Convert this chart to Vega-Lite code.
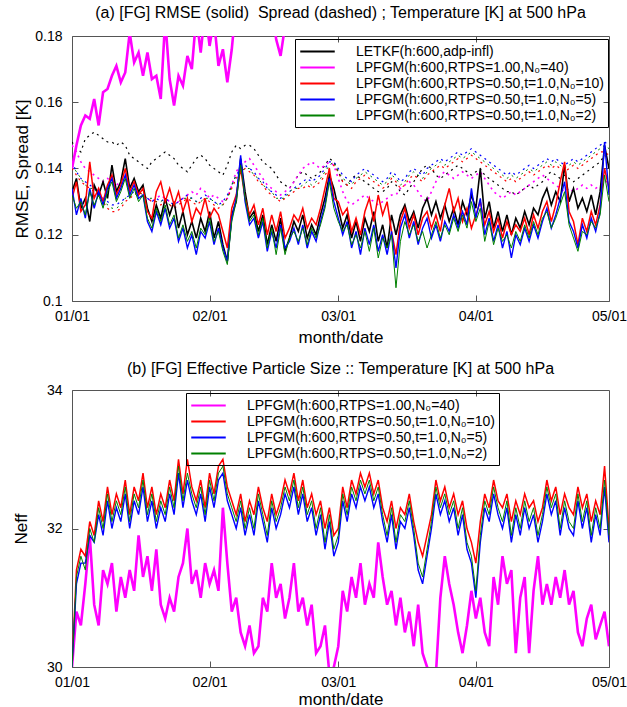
{
"$schema":"https://vega.github.io/schema/vega-lite/v6.json",
"padding":{"left":11,"top":4,"right":0,"bottom":0},
"spacing":14,
"resolve":{"scale":{"color":"independent"},"legend":{"color":"independent"}},
"config":{"font":"Liberation Sans","view":{"stroke":"#555","strokeWidth":1},
"axis":{"grid":false,"domain":false,"tickColor":"#555","tickSize":-6,"labelFontSize":14,"labelColor":"#000","titleFontSize":17,"titleFontWeight":"normal","titleColor":"#000","labelOverlap":false,"labelFlush":false},
"axisY":{"labelPadding":16},"axisX":{"labelPadding":14},
"title":{"fontSize":16,"fontWeight":"normal","color":"#000","anchor":"middle","offset":8},
"legend":{"title":null,"strokeColor":"#000","padding":4,"labelFontSize":14,"labelColor":"#000","symbolType":"M-2.3,0H2.3","symbolSize":225,"symbolStrokeWidth":2,"rowPadding":0,"labelLimit":400,"symbolOffset":10,"labelOffset":30}},
"datasets":{"v":[
{"d":0,"k":0.133,"r":0.131,"b":0.134,"g":0.132,"m":0.140,"ks":0.148,"ms":0.147,"rs":0.140,"bs":0.142,"gs":0.141,"nm":30.0,"nr":30.0,"nb":30.0,"ng":30.0},
{"d":1,"k":0.137,"r":0.136,"b":0.126,"g":0.128,"m":0.147,"ks":0.146,"ms":0.145,"rs":0.138,"bs":0.139,"gs":0.139,"nm":30.8,"nr":31.4,"nb":31.2,"ng":31.3},
{"d":2,"k":0.128,"r":0.127,"b":0.131,"g":0.130,"m":0.153,"ks":0.145,"ms":0.142,"rs":0.136,"bs":0.137,"gs":0.137,"nm":30.6,"nr":31.7,"nb":31.5,"ng":31.6},
{"d":3,"k":0.131,"r":0.129,"b":0.125,"g":0.126,"m":0.156,"ks":0.149,"ms":0.140,"rs":0.135,"bs":0.136,"gs":0.135,"nm":31.2,"nr":31.6,"nb":31.5,"ng":31.4},
{"d":4,"k":0.124,"r":0.142,"b":0.134,"g":0.133,"m":0.155,"ks":0.150,"ms":0.139,"rs":0.134,"bs":0.135,"gs":0.134,"nm":31.9,"nr":32.1,"nb":31.9,"ng":32.0},
{"d":5,"k":0.135,"r":0.131,"b":0.128,"g":0.129,"m":0.161,"ks":0.151,"ms":0.138,"rs":0.133,"bs":0.134,"gs":0.134,"nm":30.9,"nr":31.9,"nb":31.8,"ng":31.8},
{"d":6,"k":0.132,"r":0.134,"b":0.133,"g":0.132,"m":0.153,"ks":0.150,"ms":0.137,"rs":0.132,"bs":0.133,"gs":0.132,"nm":30.6,"nr":32.4,"nb":32.2,"ng":32.3},
{"d":7,"k":0.136,"r":0.130,"b":0.129,"g":0.128,"m":0.163,"ks":0.149,"ms":0.136,"rs":0.130,"bs":0.131,"gs":0.131,"nm":31.4,"nr":32.1,"nb":31.9,"ng":32.0},
{"d":8,"k":0.131,"r":0.135,"b":0.134,"g":0.133,"m":0.164,"ks":0.148,"ms":0.137,"rs":0.128,"bs":0.130,"gs":0.129,"nm":31.2,"nr":32.6,"nb":32.4,"ng":32.5},
{"d":9,"k":0.141,"r":0.138,"b":0.137,"g":0.136,"m":0.168,"ks":0.148,"ms":0.136,"rs":0.127,"bs":0.129,"gs":0.128,"nm":31.5,"nr":32.2,"nb":32.0,"ng":32.1},
{"d":10,"k":0.133,"r":0.132,"b":0.131,"g":0.130,"m":0.171,"ks":0.147,"ms":0.135,"rs":0.127,"bs":0.129,"gs":0.128,"nm":30.8,"nr":32.5,"nb":32.3,"ng":32.4},
{"d":11,"k":0.136,"r":0.135,"b":0.134,"g":0.133,"m":0.166,"ks":0.148,"ms":0.136,"rs":0.128,"bs":0.130,"gs":0.129,"nm":31.3,"nr":32.3,"nb":32.1,"ng":32.2},
{"d":12,"k":0.143,"r":0.140,"b":0.138,"g":0.137,"m":0.169,"ks":0.147,"ms":0.135,"rs":0.130,"bs":0.131,"gs":0.131,"nm":31.0,"nr":32.7,"nb":32.5,"ng":32.6},
{"d":13,"k":0.134,"r":0.133,"b":0.132,"g":0.131,"m":0.181,"ks":0.144,"ms":0.136,"rs":0.131,"bs":0.132,"gs":0.132,"nm":31.4,"nr":32.2,"nb":32.0,"ng":32.1},
{"d":14,"k":0.137,"r":0.136,"b":0.135,"g":0.134,"m":0.172,"ks":0.143,"ms":0.135,"rs":0.132,"bs":0.133,"gs":0.132,"nm":31.1,"nr":32.6,"nb":32.4,"ng":32.5},
{"d":15,"k":0.133,"r":0.132,"b":0.131,"g":0.130,"m":0.175,"ks":0.142,"ms":0.133,"rs":0.133,"bs":0.133,"gs":0.133,"nm":31.9,"nr":32.4,"nb":32.2,"ng":32.3},
{"d":16,"k":0.135,"r":0.134,"b":0.132,"g":0.132,"m":0.168,"ks":0.141,"ms":0.132,"rs":0.132,"bs":0.132,"gs":0.132,"nm":31.3,"nr":32.8,"nb":32.6,"ng":32.7},
{"d":17,"k":0.128,"r":0.127,"b":0.124,"g":0.125,"m":0.175,"ks":0.140,"ms":0.131,"rs":0.131,"bs":0.131,"gs":0.131,"nm":31.6,"nr":32.3,"nb":32.1,"ng":32.2},
{"d":18,"k":0.124,"r":0.125,"b":0.121,"g":0.122,"m":0.167,"ks":0.142,"ms":0.130,"rs":0.130,"bs":0.130,"gs":0.131,"nm":31.1,"nr":32.6,"nb":32.4,"ng":32.5},
{"d":19,"k":0.129,"r":0.133,"b":0.127,"g":0.128,"m":0.168,"ks":0.143,"ms":0.131,"rs":0.130,"bs":0.131,"gs":0.130,"nm":31.7,"nr":32.2,"nb":32.0,"ng":32.1},
{"d":20,"k":0.125,"r":0.136,"b":0.123,"g":0.124,"m":0.161,"ks":0.144,"ms":0.132,"rs":0.129,"bs":0.130,"gs":0.130,"nm":30.9,"nr":32.5,"nb":32.3,"ng":32.4},
{"d":21,"k":0.131,"r":0.130,"b":0.128,"g":0.129,"m":0.185,"ks":0.145,"ms":0.131,"rs":0.130,"bs":0.131,"gs":0.131,"nm":30.7,"nr":32.3,"nb":32.1,"ng":32.2},
{"d":22,"k":0.126,"r":0.134,"b":0.122,"g":0.123,"m":0.167,"ks":0.144,"ms":0.130,"rs":0.129,"bs":0.130,"gs":0.129,"nm":31.0,"nr":32.7,"nb":32.5,"ng":32.6},
{"d":23,"k":0.130,"r":0.129,"b":0.125,"g":0.126,"m":0.159,"ks":0.143,"ms":0.129,"rs":0.128,"bs":0.129,"gs":0.129,"nm":30.8,"nr":32.4,"nb":32.2,"ng":32.3},
{"d":24,"k":0.122,"r":0.133,"b":0.118,"g":0.119,"m":0.168,"ks":0.141,"ms":0.130,"rs":0.129,"bs":0.130,"gs":0.130,"nm":31.3,"nr":33.0,"nb":32.8,"ng":32.9},
{"d":25,"k":0.127,"r":0.127,"b":0.122,"g":0.123,"m":0.165,"ks":0.140,"ms":0.131,"rs":0.130,"bs":0.131,"gs":0.131,"nm":31.5,"nr":32.5,"nb":32.3,"ng":32.4},
{"d":26,"k":0.120,"r":0.131,"b":0.116,"g":0.118,"m":0.174,"ks":0.139,"ms":0.132,"rs":0.131,"bs":0.132,"gs":0.131,"nm":32.0,"nr":33.0,"nb":32.7,"ng":32.8},
{"d":27,"k":0.124,"r":0.124,"b":0.120,"g":0.121,"m":0.170,"ks":0.141,"ms":0.133,"rs":0.130,"bs":0.131,"gs":0.131,"nm":31.2,"nr":32.6,"nb":32.4,"ng":32.5},
{"d":28,"k":0.119,"r":0.128,"b":0.114,"g":0.116,"m":0.186,"ks":0.143,"ms":0.132,"rs":0.129,"bs":0.130,"gs":0.130,"nm":31.4,"nr":32.4,"nb":32.2,"ng":32.3},
{"d":29,"k":0.125,"r":0.126,"b":0.121,"g":0.122,"m":0.175,"ks":0.144,"ms":0.134,"rs":0.130,"bs":0.131,"gs":0.130,"nm":31.0,"nr":32.7,"nb":32.5,"ng":32.6},
{"d":30,"k":0.121,"r":0.131,"b":0.119,"g":0.120,"m":0.188,"ks":0.143,"ms":0.133,"rs":0.131,"bs":0.132,"gs":0.131,"nm":31.5,"nr":32.3,"nb":32.1,"ng":32.2},
{"d":31,"k":0.127,"r":0.125,"b":0.124,"g":0.125,"m":0.177,"ks":0.141,"ms":0.131,"rs":0.130,"bs":0.131,"gs":0.131,"nm":31.2,"nr":32.8,"nb":32.6,"ng":32.7},
{"d":32,"k":0.119,"r":0.128,"b":0.117,"g":0.118,"m":0.185,"ks":0.140,"ms":0.132,"rs":0.129,"bs":0.130,"gs":0.130,"nm":31.4,"nr":32.5,"nb":32.3,"ng":32.4},
{"d":33,"k":0.124,"r":0.126,"b":0.122,"g":0.121,"m":0.171,"ks":0.139,"ms":0.131,"rs":0.128,"bs":0.129,"gs":0.129,"nm":31.1,"nr":32.9,"nb":32.7,"ng":32.8},
{"d":34,"k":0.117,"r":0.121,"b":0.116,"g":0.115,"m":0.176,"ks":0.138,"ms":0.130,"rs":0.129,"bs":0.130,"gs":0.129,"nm":32.3,"nr":33.0,"nb":32.8,"ng":32.9},
{"d":35,"k":0.112,"r":0.116,"b":0.112,"g":0.111,"m":0.166,"ks":0.141,"ms":0.131,"rs":0.131,"bs":0.132,"gs":0.131,"nm":31.5,"nr":32.6,"nb":32.4,"ng":32.5},
{"d":36,"k":0.126,"r":0.128,"b":0.125,"g":0.124,"m":0.176,"ks":0.145,"ms":0.135,"rs":0.134,"bs":0.135,"gs":0.135,"nm":30.8,"nr":32.4,"nb":32.2,"ng":32.3},
{"d":37,"k":0.130,"r":0.132,"b":0.131,"g":0.130,"m":0.190,"ks":0.147,"ms":0.139,"rs":0.137,"bs":0.138,"gs":0.138,"nm":31.0,"nr":32.2,"nb":32.0,"ng":32.1},
{"d":38,"k":0.143,"r":0.140,"b":0.144,"g":0.141,"m":0.195,"ks":0.146,"ms":0.141,"rs":0.139,"bs":0.140,"gs":0.139,"nm":30.5,"nr":32.5,"nb":32.3,"ng":32.4},
{"d":39,"k":0.133,"r":0.131,"b":0.130,"g":0.131,"m":0.200,"ks":0.147,"ms":0.142,"rs":0.140,"bs":0.141,"gs":0.140,"nm":30.3,"nr":32.1,"nb":31.9,"ng":32.0},
{"d":40,"k":0.125,"r":0.126,"b":0.123,"g":0.124,"m":0.198,"ks":0.147,"ms":0.143,"rs":0.139,"bs":0.140,"gs":0.140,"nm":30.6,"nr":32.4,"nb":32.2,"ng":32.3},
{"d":41,"k":0.127,"r":0.129,"b":0.125,"g":0.126,"m":0.200,"ks":0.146,"ms":0.141,"rs":0.138,"bs":0.139,"gs":0.138,"nm":30.2,"nr":32.2,"nb":31.9,"ng":32.0},
{"d":42,"k":0.121,"r":0.123,"b":0.119,"g":0.120,"m":0.196,"ks":0.144,"ms":0.139,"rs":0.136,"bs":0.137,"gs":0.137,"nm":30.3,"nr":32.6,"nb":32.4,"ng":32.5},
{"d":43,"k":0.126,"r":0.128,"b":0.124,"g":0.125,"m":0.199,"ks":0.142,"ms":0.137,"rs":0.135,"bs":0.136,"gs":0.135,"nm":31.0,"nr":32.3,"nb":32.1,"ng":32.2},
{"d":44,"k":0.117,"r":0.120,"b":0.115,"g":0.116,"m":0.194,"ks":0.141,"ms":0.135,"rs":0.133,"bs":0.134,"gs":0.134,"nm":30.8,"nr":32.1,"nb":31.8,"ng":31.9},
{"d":45,"k":0.123,"r":0.126,"b":0.121,"g":0.122,"m":0.190,"ks":0.140,"ms":0.134,"rs":0.132,"bs":0.133,"gs":0.133,"nm":31.5,"nr":32.5,"nb":32.3,"ng":32.4},
{"d":46,"k":0.118,"r":0.121,"b":0.116,"g":0.114,"m":0.179,"ks":0.138,"ms":0.133,"rs":0.131,"bs":0.132,"gs":0.131,"nm":31.0,"nr":32.2,"nb":32.0,"ng":32.1},
{"d":47,"k":0.125,"r":0.127,"b":0.123,"g":0.122,"m":0.174,"ks":0.136,"ms":0.132,"rs":0.130,"bs":0.131,"gs":0.131,"nm":31.2,"nr":32.4,"nb":32.2,"ng":32.3},
{"d":48,"k":0.115,"r":0.119,"b":0.116,"g":0.114,"m":0.183,"ks":0.135,"ms":0.133,"rs":0.131,"bs":0.132,"gs":0.131,"nm":30.7,"nr":32.7,"nb":32.5,"ng":32.6},
{"d":49,"k":0.119,"r":0.122,"b":0.118,"g":0.119,"m":0.195,"ks":0.134,"ms":0.134,"rs":0.132,"bs":0.133,"gs":0.133,"nm":31.0,"nr":32.5,"nb":32.3,"ng":32.4},
{"d":50,"k":0.124,"r":0.126,"b":0.122,"g":0.121,"m":0.200,"ks":0.136,"ms":0.136,"rs":0.133,"bs":0.134,"gs":0.134,"nm":31.5,"nr":32.8,"nb":32.6,"ng":32.7},
{"d":51,"k":0.121,"r":0.124,"b":0.117,"g":0.118,"ks":0.138,"ms":0.138,"rs":0.134,"bs":0.135,"gs":0.134,"nm":30.8,"nr":32.4,"nb":32.2,"ng":32.3},
{"d":52,"k":0.126,"r":0.128,"b":0.123,"g":0.122,"ks":0.139,"ms":0.140,"rs":0.134,"bs":0.136,"gs":0.135,"nm":31.0,"nr":32.7,"nb":32.5,"ng":32.6},
{"d":53,"k":0.119,"r":0.122,"b":0.116,"g":0.117,"ks":0.138,"ms":0.141,"rs":0.135,"bs":0.137,"gs":0.136,"nm":30.6,"nr":32.3,"nb":32.1,"ng":32.2},
{"d":54,"k":0.123,"r":0.125,"b":0.121,"g":0.122,"ks":0.137,"ms":0.142,"rs":0.134,"bs":0.136,"gs":0.135,"nm":30.9,"nr":32.5,"nb":32.3,"ng":32.4},
{"d":55,"k":0.120,"r":0.123,"b":0.118,"g":0.119,"ks":0.138,"ms":0.141,"rs":0.135,"bs":0.137,"gs":0.136,"nm":30.2,"nr":32.2,"nb":31.9,"ng":32.0},
{"d":56,"k":0.126,"r":0.128,"b":0.124,"g":0.123,"ks":0.139,"ms":0.140,"rs":0.136,"bs":0.138,"gs":0.137,"nm":30.3,"nr":32.4,"nb":32.2,"ng":32.3},
{"d":57,"k":0.131,"r":0.134,"b":0.129,"g":0.128,"ks":0.141,"ms":0.141,"rs":0.138,"bs":0.140,"gs":0.139,"nm":30.6,"nr":32.0,"nb":31.7,"ng":31.8},
{"d":58,"k":0.138,"r":0.140,"b":0.137,"g":0.136,"ks":0.143,"ms":0.142,"rs":0.140,"bs":0.142,"gs":0.141,"nm":29.9,"nr":32.3,"nb":32.1,"ng":32.2},
{"d":59,"k":0.134,"r":0.131,"b":0.130,"g":0.128,"ks":0.142,"ms":0.141,"rs":0.141,"bs":0.142,"gs":0.142,"nm":30.0,"nr":31.9,"nb":31.6,"ng":31.7},
{"d":60,"k":0.128,"r":0.130,"b":0.125,"g":0.124,"ks":0.139,"ms":0.137,"rs":0.139,"bs":0.140,"gs":0.139,"nm":30.3,"nr":32.0,"nb":31.8,"ng":31.9},
{"d":61,"k":0.122,"r":0.126,"b":0.120,"g":0.121,"ks":0.136,"ms":0.133,"rs":0.136,"bs":0.138,"gs":0.137,"nm":31.1,"nr":32.6,"nb":32.4,"ng":32.5},
{"d":62,"k":0.126,"r":0.128,"b":0.124,"g":0.123,"ks":0.135,"ms":0.130,"rs":0.135,"bs":0.137,"gs":0.136,"nm":30.8,"nr":32.3,"nb":32.1,"ng":32.2},
{"d":63,"k":0.119,"r":0.121,"b":0.116,"g":0.117,"ks":0.137,"ms":0.129,"rs":0.134,"bs":0.136,"gs":0.135,"nm":31.3,"nr":32.7,"nb":32.5,"ng":32.6},
{"d":64,"k":0.124,"r":0.125,"b":0.121,"g":0.120,"ks":0.138,"ms":0.130,"rs":0.136,"bs":0.138,"gs":0.137,"nm":31.0,"nr":32.5,"nb":32.3,"ng":32.4},
{"d":65,"k":0.118,"r":0.120,"b":0.114,"g":0.116,"ks":0.137,"ms":0.131,"rs":0.137,"bs":0.139,"gs":0.138,"nm":31.5,"nr":32.8,"nb":32.6,"ng":32.7},
{"d":66,"k":0.125,"r":0.127,"b":0.122,"g":0.121,"ks":0.136,"ms":0.132,"rs":0.138,"bs":0.140,"gs":0.139,"nm":30.9,"nr":32.6,"nb":32.4,"ng":32.5},
{"d":67,"k":0.121,"r":0.131,"b":0.117,"g":0.115,"ks":0.135,"ms":0.131,"rs":0.137,"bs":0.139,"gs":0.138,"nm":31.2,"nr":32.8,"nb":32.6,"ng":32.7},
{"d":68,"k":0.127,"r":0.124,"b":0.123,"g":0.122,"ks":0.134,"ms":0.130,"rs":0.136,"bs":0.138,"gs":0.137,"nm":31.0,"nr":32.5,"nb":32.3,"ng":32.4},
{"d":69,"k":0.118,"r":0.132,"b":0.115,"g":0.113,"ks":0.133,"ms":0.129,"rs":0.135,"bs":0.137,"gs":0.136,"nm":31.8,"nr":32.7,"nb":32.5,"ng":32.6},
{"d":70,"k":0.123,"r":0.126,"b":0.120,"g":0.119,"ks":0.133,"ms":0.130,"rs":0.134,"bs":0.136,"gs":0.135,"nm":31.3,"nr":32.3,"nb":32.1,"ng":32.2},
{"d":71,"k":0.116,"r":0.130,"b":0.114,"g":0.116,"ks":0.134,"ms":0.131,"rs":0.135,"bs":0.137,"gs":0.136,"nm":30.9,"nr":32.1,"nb":31.8,"ng":31.9},
{"d":72,"k":0.126,"r":0.121,"b":0.121,"g":0.120,"ks":0.136,"ms":0.132,"rs":0.137,"bs":0.139,"gs":0.138,"nm":31.1,"nr":32.4,"nb":32.2,"ng":32.3},
{"d":73,"k":0.120,"r":0.114,"b":0.110,"g":0.104,"ks":0.135,"ms":0.132,"rs":0.136,"bs":0.138,"gs":0.137,"nm":30.6,"nr":32.0,"nb":31.7,"ng":31.8},
{"d":74,"k":0.126,"r":0.124,"b":0.122,"g":0.118,"ks":0.133,"ms":0.134,"rs":0.134,"bs":0.136,"gs":0.135,"nm":31.0,"nr":32.3,"nb":32.1,"ng":32.2},
{"d":75,"k":0.129,"r":0.128,"b":0.126,"g":0.124,"ks":0.132,"ms":0.135,"rs":0.135,"bs":0.137,"gs":0.136,"nm":30.5,"nr":32.2,"nb":32.0,"ng":32.1},
{"d":76,"k":0.124,"r":0.122,"b":0.119,"g":0.120,"ks":0.134,"ms":0.136,"rs":0.137,"bs":0.139,"gs":0.138,"nm":30.8,"nr":32.5,"nb":32.3,"ng":32.4},
{"d":77,"k":0.127,"r":0.126,"b":0.124,"g":0.123,"ks":0.136,"ms":0.135,"rs":0.138,"bs":0.140,"gs":0.139,"nm":30.3,"nr":32.1,"nb":31.9,"ng":32.0},
{"d":78,"k":0.122,"r":0.120,"b":0.117,"g":0.118,"ks":0.138,"ms":0.133,"rs":0.137,"bs":0.139,"gs":0.138,"nm":30.9,"nr":31.8,"nb":31.4,"ng":31.5},
{"d":79,"k":0.128,"r":0.125,"b":0.122,"g":0.121,"ks":0.140,"ms":0.131,"rs":0.136,"bs":0.138,"gs":0.137,"nm":30.2,"nr":31.6,"nb":31.2,"ng":31.3},
{"d":80,"k":0.131,"r":0.127,"b":0.125,"g":0.116,"ks":0.141,"ms":0.130,"rs":0.138,"bs":0.140,"gs":0.139,"nm":30.0,"nr":31.9,"nb":31.6,"ng":31.7},
{"d":81,"k":0.126,"r":0.122,"b":0.119,"g":0.120,"ks":0.140,"ms":0.133,"rs":0.139,"bs":0.141,"gs":0.140,"nm":29.9,"nr":32.2,"nb":32.0,"ng":32.1},
{"d":82,"k":0.130,"r":0.126,"b":0.123,"g":0.124,"ks":0.138,"ms":0.136,"rs":0.140,"bs":0.142,"gs":0.141,"nm":29.9,"nr":32.7,"nb":32.5,"ng":32.6},
{"d":83,"k":0.125,"r":0.121,"b":0.118,"g":0.119,"ks":0.137,"ms":0.138,"rs":0.141,"bs":0.143,"gs":0.142,"nm":31.0,"nr":32.4,"nb":32.2,"ng":32.3},
{"d":84,"k":0.129,"r":0.129,"b":0.124,"g":0.123,"ks":0.138,"ms":0.139,"rs":0.140,"bs":0.142,"gs":0.141,"nm":31.6,"nr":32.6,"nb":32.4,"ng":32.5},
{"d":85,"k":0.124,"r":0.134,"b":0.121,"g":0.120,"ks":0.139,"ms":0.138,"rs":0.141,"bs":0.143,"gs":0.142,"nm":31.2,"nr":32.3,"nb":32.1,"ng":32.2},
{"d":86,"k":0.128,"r":0.127,"b":0.126,"g":0.125,"ks":0.140,"ms":0.137,"rs":0.142,"bs":0.144,"gs":0.143,"nm":30.9,"nr":32.5,"nb":32.3,"ng":32.4},
{"d":87,"k":0.123,"r":0.131,"b":0.122,"g":0.121,"ks":0.141,"ms":0.138,"rs":0.143,"bs":0.145,"gs":0.144,"nm":30.5,"nr":32.2,"nb":31.9,"ng":32.0},
{"d":88,"k":0.130,"r":0.124,"b":0.127,"g":0.126,"ks":0.140,"ms":0.139,"rs":0.142,"bs":0.144,"gs":0.143,"nm":30.2,"nr":32.4,"nb":32.2,"ng":32.3},
{"d":89,"k":0.126,"r":0.128,"b":0.123,"g":0.122,"ks":0.139,"ms":0.138,"rs":0.143,"bs":0.145,"gs":0.144,"nm":30.6,"nr":32.0,"nb":31.7,"ng":31.8},
{"d":90,"k":0.132,"r":0.122,"b":0.134,"g":0.130,"ks":0.138,"ms":0.137,"rs":0.144,"bs":0.146,"gs":0.145,"nm":31.1,"nr":31.8,"nb":31.5,"ng":31.6},
{"d":91,"k":0.128,"r":0.126,"b":0.125,"g":0.124,"ks":0.139,"ms":0.138,"rs":0.143,"bs":0.145,"gs":0.144,"nm":30.7,"nr":31.5,"nb":31.0,"ng":31.1},
{"d":92,"k":0.140,"r":0.130,"b":0.131,"g":0.128,"ks":0.140,"ms":0.139,"rs":0.142,"bs":0.144,"gs":0.143,"nm":31.0,"nr":32.1,"nb":31.8,"ng":31.9},
{"d":93,"k":0.125,"r":0.123,"b":0.120,"g":0.118,"ks":0.138,"ms":0.137,"rs":0.141,"bs":0.143,"gs":0.142,"nm":30.5,"nr":32.5,"nb":32.3,"ng":32.4},
{"d":94,"k":0.130,"r":0.127,"b":0.125,"g":0.124,"ks":0.137,"ms":0.135,"rs":0.140,"bs":0.142,"gs":0.141,"nm":30.3,"nr":32.3,"nb":32.1,"ng":32.2},
{"d":95,"k":0.122,"r":0.121,"b":0.118,"g":0.117,"ks":0.136,"ms":0.133,"rs":0.139,"bs":0.141,"gs":0.140,"nm":31.3,"nr":32.7,"nb":32.5,"ng":32.6},
{"d":96,"k":0.127,"r":0.125,"b":0.123,"g":0.122,"ks":0.135,"ms":0.132,"rs":0.138,"bs":0.140,"gs":0.139,"nm":30.9,"nr":32.4,"nb":32.2,"ng":32.3},
{"d":97,"k":0.121,"r":0.119,"b":0.116,"g":0.118,"ks":0.134,"ms":0.131,"rs":0.137,"bs":0.139,"gs":0.138,"nm":31.6,"nr":32.3,"nb":32.0,"ng":32.1},
{"d":98,"k":0.126,"r":0.124,"b":0.121,"g":0.120,"ks":0.133,"ms":0.132,"rs":0.136,"bs":0.138,"gs":0.137,"nm":31.2,"nr":32.5,"nb":32.3,"ng":32.4},
{"d":99,"k":0.120,"r":0.120,"b":0.113,"g":0.116,"ks":0.133,"ms":0.133,"rs":0.137,"bs":0.139,"gs":0.138,"nm":31.4,"nr":32.1,"nb":31.8,"ng":31.9},
{"d":100,"k":0.125,"r":0.123,"b":0.120,"g":0.121,"ks":0.132,"ms":0.132,"rs":0.136,"bs":0.138,"gs":0.137,"nm":30.2,"nr":32.4,"nb":32.2,"ng":32.3},
{"d":101,"k":0.122,"r":0.121,"b":0.117,"g":0.118,"ks":0.133,"ms":0.133,"rs":0.137,"bs":0.139,"gs":0.138,"nm":31.0,"nr":32.2,"nb":31.9,"ng":32.0},
{"d":102,"k":0.127,"r":0.125,"b":0.122,"g":0.123,"ks":0.134,"ms":0.134,"rs":0.138,"bs":0.140,"gs":0.139,"nm":31.3,"nr":32.5,"nb":32.3,"ng":32.4},
{"d":103,"k":0.123,"r":0.120,"b":0.118,"g":0.119,"ks":0.135,"ms":0.135,"rs":0.139,"bs":0.141,"gs":0.140,"nm":30.2,"nr":32.3,"nb":32.0,"ng":32.1},
{"d":104,"k":0.128,"r":0.126,"b":0.123,"g":0.124,"ks":0.134,"ms":0.136,"rs":0.138,"bs":0.140,"gs":0.139,"nm":31.1,"nr":32.4,"nb":32.2,"ng":32.3},
{"d":105,"k":0.126,"r":0.122,"b":0.119,"g":0.120,"ks":0.135,"ms":0.137,"rs":0.139,"bs":0.141,"gs":0.140,"nm":31.6,"nr":32.1,"nb":31.8,"ng":31.9},
{"d":106,"k":0.131,"r":0.127,"b":0.124,"g":0.125,"ks":0.136,"ms":0.138,"rs":0.140,"bs":0.142,"gs":0.141,"nm":30.9,"nr":32.3,"nb":32.1,"ng":32.2},
{"d":107,"k":0.134,"r":0.130,"b":0.128,"g":0.127,"ks":0.138,"ms":0.137,"rs":0.141,"bs":0.143,"gs":0.142,"nm":31.2,"nr":32.7,"nb":32.5,"ng":32.6},
{"d":108,"k":0.129,"r":0.124,"b":0.122,"g":0.122,"ks":0.139,"ms":0.136,"rs":0.140,"bs":0.142,"gs":0.141,"nm":30.9,"nr":32.4,"nb":32.2,"ng":32.3},
{"d":109,"k":0.133,"r":0.129,"b":0.126,"g":0.125,"ks":0.138,"ms":0.135,"rs":0.141,"bs":0.143,"gs":0.142,"nm":31.3,"nr":32.6,"nb":32.4,"ng":32.5},
{"d":110,"k":0.130,"r":0.136,"b":0.131,"g":0.129,"ks":0.137,"ms":0.134,"rs":0.140,"bs":0.142,"gs":0.141,"nm":31.0,"nr":32.2,"nb":31.9,"ng":32.0},
{"d":111,"k":0.141,"r":0.142,"b":0.136,"g":0.133,"ks":0.138,"ms":0.133,"rs":0.139,"bs":0.141,"gs":0.140,"nm":31.4,"nr":32.5,"nb":32.3,"ng":32.4},
{"d":112,"k":0.130,"r":0.127,"b":0.124,"g":0.123,"ks":0.137,"ms":0.134,"rs":0.140,"bs":0.142,"gs":0.141,"nm":30.9,"nr":32.3,"nb":32.0,"ng":32.1},
{"d":113,"k":0.134,"r":0.124,"b":0.121,"g":0.119,"ks":0.136,"ms":0.133,"rs":0.141,"bs":0.143,"gs":0.142,"nm":31.1,"nr":32.2,"nb":31.9,"ng":32.0},
{"d":114,"k":0.128,"r":0.117,"b":0.116,"g":0.115,"ks":0.137,"ms":0.134,"rs":0.140,"bs":0.142,"gs":0.141,"nm":30.5,"nr":32.6,"nb":32.4,"ng":32.5},
{"d":115,"k":0.131,"r":0.125,"b":0.123,"g":0.121,"ks":0.138,"ms":0.135,"rs":0.141,"bs":0.143,"gs":0.142,"nm":30.3,"nr":32.3,"nb":32.0,"ng":32.1},
{"d":116,"k":0.127,"r":0.121,"b":0.119,"g":0.120,"ks":0.139,"ms":0.134,"rs":0.142,"bs":0.144,"gs":0.143,"nm":30.7,"nr":32.5,"nb":32.3,"ng":32.4},
{"d":117,"k":0.132,"r":0.127,"b":0.125,"g":0.124,"ks":0.140,"ms":0.135,"rs":0.143,"bs":0.145,"gs":0.144,"nm":30.9,"nr":32.1,"nb":31.8,"ng":31.9},
{"d":118,"k":0.126,"r":0.123,"b":0.121,"g":0.122,"ks":0.141,"ms":0.134,"rs":0.144,"bs":0.146,"gs":0.145,"nm":30.4,"nr":32.4,"nb":32.2,"ng":32.3},
{"d":119,"k":0.133,"r":0.129,"b":0.127,"g":0.126,"ks":0.142,"ms":0.135,"rs":0.145,"bs":0.147,"gs":0.146,"nm":30.6,"nr":32.2,"nb":31.9,"ng":32.0},
{"d":120,"k":0.147,"r":0.140,"b":0.148,"g":0.138,"ks":0.144,"ms":0.136,"rs":0.145,"bs":0.148,"gs":0.147,"nm":30.8,"nr":32.9,"nb":32.6,"ng":32.7},
{"d":121,"k":0.140,"r":0.134,"b":0.132,"g":0.130,"ks":0.143,"ms":0.136,"rs":0.144,"bs":0.147,"gs":0.146,"nm":30.3,"nr":32.0,"nb":31.8,"ng":31.9}
]},
"vconcat":[
{"width":537,"height":265,
"title":{"text":"(a) [FG] RMSE (solid)\u00a0 Spread (dashed) ; Temperature [K] at 500 hPa"},
"data":{"name":"v"},
"resolve":{"axis":{"x":"independent","y":"independent"}},
"encoding":{"x":{"field":"d","type":"quantitative","scale":{"domain":[0,121],"nice":false,"zero":false},"axis":null}},
"layer":[
{"mark":{"type":"line","color":"#000","strokeWidth":1.2,"strokeDash":[2,4],"clip":true},"encoding":{"x":{"field":"d","type":"quantitative","scale":{"domain":[0,121],"nice":false,"zero":false},"axis":{"values":[0,31,60,91,121],"labelExpr":"datum.value==0?'01/01':datum.value==31?'02/01':datum.value==60?'03/01':datum.value==91?'04/01':'05/01'","title":"month/date","titlePadding":6}},"y":{"field":"ks","type":"quantitative","title":"RMSE, Spread [K]","scale":{"domain":[0.1,0.18],"nice":false,"zero":false},"axis":{"values":[0.1,0.12,0.14,0.16,0.18],"format":"~g","titlePadding":3}}}},
{"mark":{"type":"line","color":"#ff00ff","strokeWidth":1.6,"strokeDash":[2,4],"clip":true},"encoding":{"y":{"field":"ms","type":"quantitative","scale":{"domain":[0.1,0.18],"nice":false,"zero":false},"axis":null}}},
{"mark":{"type":"line","color":"#ff0000","strokeWidth":1.2,"strokeDash":[2,4],"clip":true},"encoding":{"y":{"field":"rs","type":"quantitative","scale":{"domain":[0.1,0.18],"nice":false,"zero":false},"axis":null}}},
{"mark":{"type":"line","color":"#0000ff","strokeWidth":1.2,"strokeDash":[2,4],"clip":true},"encoding":{"y":{"field":"bs","type":"quantitative","scale":{"domain":[0.1,0.18],"nice":false,"zero":false},"axis":null}}},
{"mark":{"type":"line","color":"#008000","strokeWidth":1,"strokeDash":[2,4],"clip":true},"encoding":{"y":{"field":"gs","type":"quantitative","scale":{"domain":[0.1,0.18],"nice":false,"zero":false},"axis":null}}},
{"mark":{"type":"line","strokeWidth":1.6,"clip":true},"encoding":{"y":{"field":"k","type":"quantitative","scale":{"domain":[0.1,0.18],"nice":false,"zero":false},"axis":null},"color":{"datum":"LETKF(h:600,adp-infl)","scale":{"domain":["LETKF(h:600,adp-infl)","LPFGM(h:600,RTPS=1.00,N₀=40)","LPFGM(h:600,RTPS=0.50,t=1.0,N₀=10)","LPFGM(h:600,RTPS=0.50,t=1.0,N₀=5)","LPFGM(h:600,RTPS=0.50,t=1.0,N₀=2)"],"range":["#000000","#ff00ff","#ff0000","#0000ff","#008000"]},"legend":{"orient":"none","legendX":223,"legendY":3}}}},
{"mark":{"type":"line","strokeWidth":2.6,"clip":true},"encoding":{"y":{"field":"m","type":"quantitative","scale":{"domain":[0.1,0.18],"nice":false,"zero":false},"axis":null},"color":{"datum":"LPFGM(h:600,RTPS=1.00,N₀=40)"}}},
{"mark":{"type":"line","strokeWidth":1.5,"clip":true},"encoding":{"y":{"field":"r","type":"quantitative","scale":{"domain":[0.1,0.18],"nice":false,"zero":false},"axis":null},"color":{"datum":"LPFGM(h:600,RTPS=0.50,t=1.0,N₀=10)"}}},
{"mark":{"type":"line","strokeWidth":1.4,"clip":true},"encoding":{"y":{"field":"b","type":"quantitative","scale":{"domain":[0.1,0.18],"nice":false,"zero":false},"axis":null},"color":{"datum":"LPFGM(h:600,RTPS=0.50,t=1.0,N₀=5)"}}},
{"mark":{"type":"line","strokeWidth":1,"clip":true},"encoding":{"x":{"field":"d","type":"quantitative","scale":{"domain":[0,121],"nice":false,"zero":false},"axis":{"orient":"top","values":[31,60,91],"labels":false,"title":null}},"y":{"field":"g","type":"quantitative","scale":{"domain":[0.1,0.18],"nice":false,"zero":false},"axis":{"orient":"right","values":[0.12,0.14,0.16],"labels":false,"title":null}},"color":{"datum":"LPFGM(h:600,RTPS=0.50,t=1.0,N₀=2)"}}}
]},
{"width":537,"height":277,
"title":{"text":"(b) [FG] Effective Particle Size :: Temperature [K] at 500 hPa","offset":6},
"data":{"name":"v"},
"resolve":{"axis":{"x":"independent","y":"independent"}},
"encoding":{"x":{"field":"d","type":"quantitative","scale":{"domain":[0,121],"nice":false,"zero":false},"axis":null}},
"layer":[
{"mark":{"type":"line","strokeWidth":2.6,"clip":true},"encoding":{"x":{"field":"d","type":"quantitative","scale":{"domain":[0,121],"nice":false,"zero":false},"axis":{"values":[0,31,60,91,121],"labelExpr":"datum.value==0?'01/01':datum.value==31?'02/01':datum.value==60?'03/01':datum.value==91?'04/01':'05/01'","title":"month/date","titlePadding":2}},"y":{"field":"nm","type":"quantitative","title":"Neff","scale":{"domain":[30,34],"nice":false,"zero":false},"axis":{"values":[30,32,34],"format":"~g","titlePadding":16}},"color":{"datum":"LPFGM(h:600,RTPS=1.00,N₀=40)","scale":{"domain":["LPFGM(h:600,RTPS=1.00,N₀=40)","LPFGM(h:600,RTPS=0.50,t=1.0,N₀=10)","LPFGM(h:600,RTPS=0.50,t=1.0,N₀=5)","LPFGM(h:600,RTPS=0.50,t=1.0,N₀=2)"],"range":["#ff00ff","#ff0000","#0000ff","#008000"]},"legend":{"orient":"none","legendX":114,"legendY":3}}}},
{"mark":{"type":"line","strokeWidth":1.5,"clip":true},"encoding":{"y":{"field":"nr","type":"quantitative","scale":{"domain":[30,34],"nice":false,"zero":false},"axis":null},"color":{"datum":"LPFGM(h:600,RTPS=0.50,t=1.0,N₀=10)"}}},
{"mark":{"type":"line","strokeWidth":1.4,"clip":true},"encoding":{"y":{"field":"nb","type":"quantitative","scale":{"domain":[30,34],"nice":false,"zero":false},"axis":null},"color":{"datum":"LPFGM(h:600,RTPS=0.50,t=1.0,N₀=5)"}}},
{"mark":{"type":"line","strokeWidth":1,"clip":true},"encoding":{"x":{"field":"d","type":"quantitative","scale":{"domain":[0,121],"nice":false,"zero":false},"axis":{"orient":"top","values":[31,60,91],"labels":false,"title":null}},"y":{"field":"ng","type":"quantitative","scale":{"domain":[30,34],"nice":false,"zero":false},"axis":{"orient":"right","values":[32],"labels":false,"title":null}},"color":{"datum":"LPFGM(h:600,RTPS=0.50,t=1.0,N₀=2)"}}}
]}
]
}
